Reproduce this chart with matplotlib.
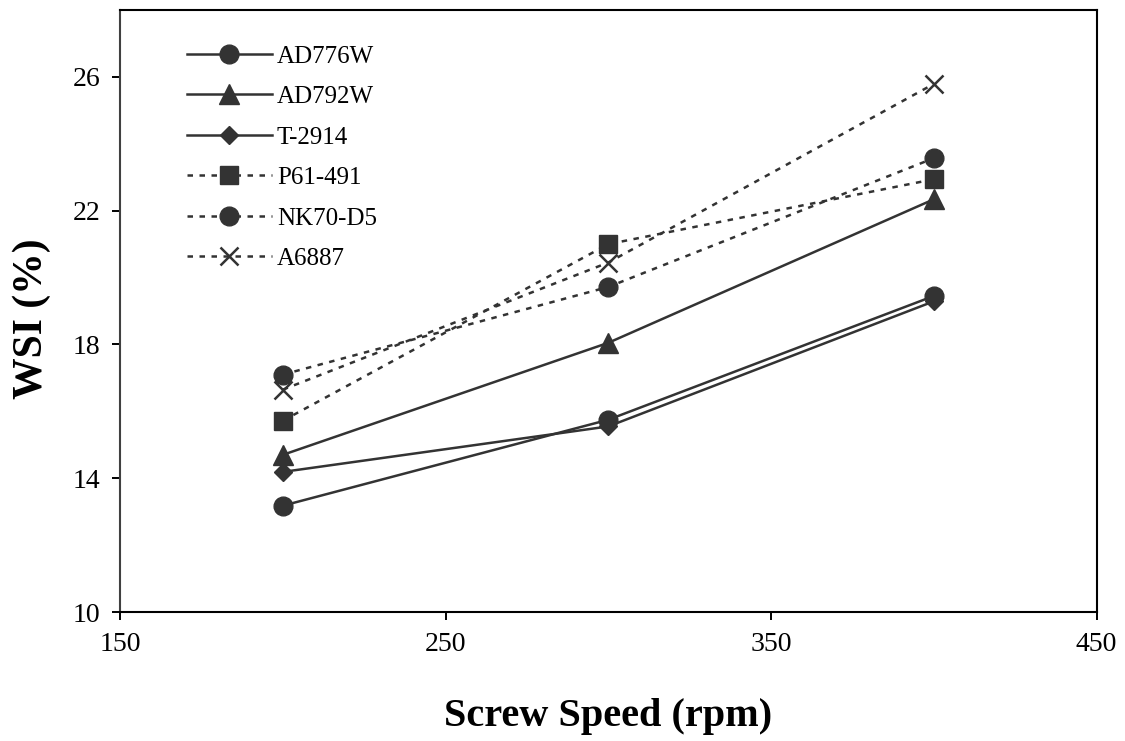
import matplotlib
matplotlib.use("Agg")
import matplotlib.pyplot as plt

plt.rcParams['font.family'] = ['Liberation Serif', 'DejaVu Serif']

# screw speed (rpm)
speed = [200, 300, 400]

# WSI (%)
ad776w = [13.18, 15.75, 19.45]
ad792w = [14.70, 18.05, 22.34]
t2914 = [14.19, 15.55, 19.29]
p61_491 = [15.72, 21.00, 22.94]
nk70_d5 = [17.10, 19.72, 23.57]
a6887 = [16.65, 20.45, 25.79]

col = '#333333'

fig = plt.figure(figsize=(11.25, 7.41), dpi=100)
ax = fig.add_axes([0.1067, 0.174, 0.868, 0.8125])

solid = dict(color=col, lw=1.8, linestyle='-')
dash = dict(color=col, lw=1.8, linestyle=(0, (2.2, 2.6)))

ax.plot(speed, ad776w, marker='o', ms=13.5, label='AD776W', **solid)
ax.plot(speed, ad792w, marker='^', ms=14, label='AD792W', **solid)
ax.plot(speed, t2914, marker='D', ms=9.5, label='T-2914', **solid)
ax.plot(speed, p61_491, marker='s', ms=12.5, label='P61-491', **dash)
ax.plot(speed, nk70_d5, marker='o', ms=13.5, label='NK70-D5', **dash)
ax.plot(speed, a6887, marker='x', ms=13, mew=1.8, label='A6887', **dash)

ax.set_xlim(150, 450)
ax.set_ylim(10, 28)
ax.set_xticks([150, 250, 350, 450])
ax.set_yticks([10, 14, 18, 22, 26])
ax.tick_params(direction='out', length=6, width=1.4, labelsize=20, pad=8)

for s in ax.spines.values():
    s.set_linewidth(1.5)
    s.set_color('black')
ax.spines['left'].set_color('#404040')

ax.set_xlabel('Screw Speed (rpm)', fontsize=29, fontweight='bold', labelpad=30)
ax.set_ylabel('WSI (%)', fontsize=30, fontweight='bold')
ax.yaxis.set_label_coords(-0.071, 0.488)

ax.legend(loc='upper left', frameon=False, fontsize=18, handlelength=3.4,
          handletextpad=0.2, labelspacing=0.72, bbox_to_anchor=(0.048, 0.975),
          borderaxespad=0.4)

fig.savefig('out.png', dpi=100)
